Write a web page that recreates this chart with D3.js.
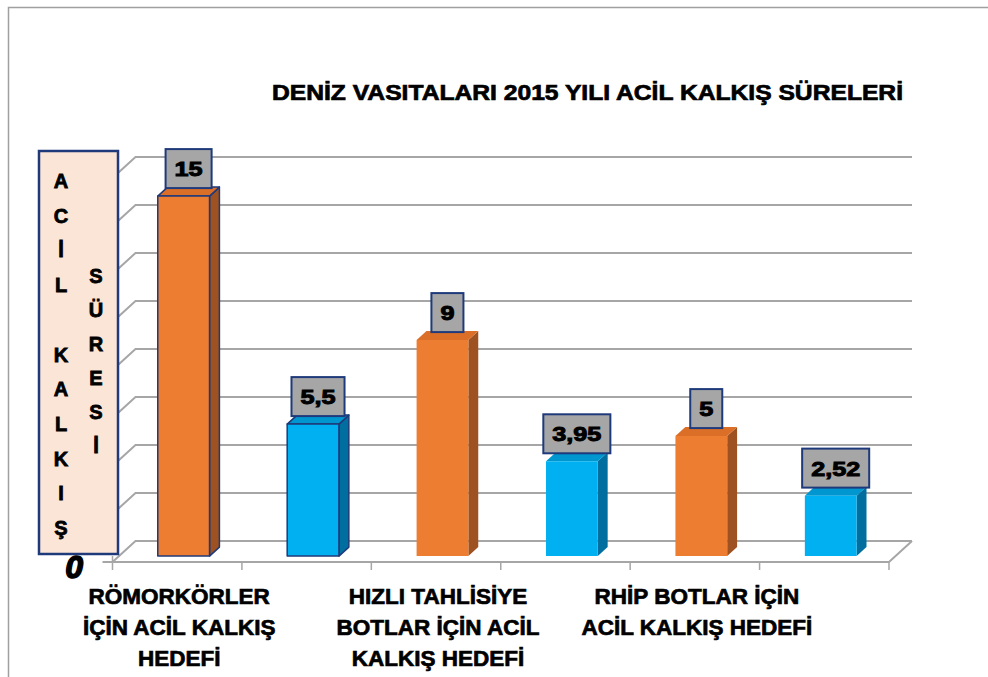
<!DOCTYPE html>
<html>
<head>
<meta charset="utf-8">
<script src="https://cdn.jsdelivr.net/npm/d3@7.8.5/dist/d3.min.js"></script>
<style>
  html, body { margin: 0; padding: 0; background: #fff; }
  svg { display: block; font-family: "Liberation Sans", Arial, sans-serif; }
</style>
</head>
<body>
<svg id="chart" width="988" height="677"></svg>
<script>
// Veriler
const title = "DENİZ VASITALARI 2015 YILI ACİL KALKIŞ SÜRELERİ";
const values = [15, 5.5, 9, 3.95, 5, 2.52];
const tickLabels = [
    ["RÖMORKÖRLER", "İÇİN ACİL KALKIŞ", "HEDEFİ"],
    [],
    ["HIZLI TAHLİSİYE", "BOTLAR İÇİN ACİL", "KALKIŞ HEDEFİ"],
    [],
    ["RHİP BOTLAR İÇİN", "ACİL KALKIŞ HEDEFİ"],
    []
];
const yTitleLeft = "ACİL KALKIŞ";
const yTitleRight = "SÜRESİ";
const yMax = 16;

(function() {
    'use strict';

    const svg = d3.select('#chart');

    // 3B yerleşim: ön zemin kenarı ve derinlik vektörü
    const floorY = 562;
    const depth = { dx: 23, dy: -21 };
    const barDepth = [0.28, 0.71]; // sütunun ön/arka derinlik payı
    const barFrac = 0.40;

    const x = d3.scaleBand().domain(d3.range(values.length)).range([112.5, 889]);
    const h = d3.scaleLinear().domain([0, yMax]).range([0, 384]);

    // nokta: (ekran x, değer, derinlik) -> [px, py]
    const pt = (px, v, d) => [px + depth.dx * d, floorY - h(v) + depth.dy * d];
    const P = (px, v, d) => pt(px, v, d).join(',');

    // Çerçeve
    svg.append('path')
        .attr('d', 'M8.5,677 V7.5 H988')
        .attr('fill', 'none')
        .attr('stroke', '#a0a0a0')
        .attr('stroke-width', 1.5);

    // Başlık
    svg.append('text')
        .attr('x', 272)
        .attr('y', 100)
        .attr('font-size', 22)
        .attr('font-weight', 'bold')
        .attr('textLength', 631)
        .attr('lengthAdjust', 'spacingAndGlyphs')
        .attr('stroke', '#000')
        .attr('stroke-width', 0.7)
        .text(title);

    const x0 = x.range()[0], x1 = x.range()[1];
    const grid = svg.append('g')
        .attr('fill', 'none')
        .attr('stroke', '#a6a6a6')
        .attr('stroke-width', 2);

    // Arka duvar ve yan duvar çizgileri
    h.ticks(8).forEach(t => {
        grid.append('polyline')
            .attr('points', [P(x0, t, 0), P(x0, t, 1), P(x1, t, 1)].join(' '));
    });

    // Zemin ön kenarı ve sağ kenar
    grid.append('polyline')
        .attr('points', [[x0 - 10, floorY].join(','), P(x1, 0, 0), P(x1, 0, 1)].join(' '));

    // Kategori çentikleri
    x.domain().concat([values.length]).forEach(i => {
        const px = i < values.length ? x(i) : x1;
        grid.append('line')
            .attr('x1', px).attr('x2', px)
            .attr('y1', i === 0 ? floorY - 6 : floorY)
            .attr('y2', floorY + 8)
            .attr('stroke-width', 1.5);
    });

    // Renkler (turuncu: hedef, mavi: gerçekleşen)
    const colors = [
        { front: '#ed7d31', top: '#dc6f27', side: '#9e5121' },
        { front: '#00b0f0', top: '#0096cf', side: '#006f9f' }
    ];

    const bw = x.bandwidth() * barFrac;
    const bars = svg.append('g');
    const fmt = v => String(v).replace('.', ',');

    values.forEach((v, i) => {
        const c = colors[i % 2];
        const left = x(i) + (x.bandwidth() - bw) / 2;
        const right = left + bw;
        const [d0, d1] = barDepth;
        const g = bars.append('g')
            .attr('stroke', i < 2 ? '#1f3a7a' : 'none')
            .attr('stroke-width', 1.5)
            .attr('stroke-linejoin', 'round');

        // yan yüz
        g.append('polygon')
            .attr('fill', c.side)
            .attr('points', [P(right, 0, d0), P(right, 0, d1), P(right, v, d1), P(right, v, d0)].join(' '));
        // üst yüz
        g.append('polygon')
            .attr('fill', c.top)
            .attr('points', [P(left, v, d0), P(left, v, d1), P(right, v, d1), P(right, v, d0)].join(' '));
        // ön yüz
        g.append('polygon')
            .attr('fill', c.front)
            .attr('points', [P(left, 0, d0), P(left, v, d0), P(right, v, d0), P(right, 0, d0)].join(' '));

        // Değer etiketi
        const [cx] = pt((left + right) / 2, v, (d0 + d1) / 2);
        const boxBottom = pt(left, v, d1)[1] + 1;
        const lab = svg.append('g');
        const txt = lab.append('text')
            .attr('x', cx)
            .attr('y', boxBottom - 12)
            .attr('text-anchor', 'middle')
            .attr('font-size', 21)
            .attr('font-weight', 'bold')
            .attr('stroke', '#000')
            .attr('stroke-width', 1)
            .text(fmt(v));
        const tw = txt.node().getComputedTextLength() * 1.2;
        txt.attr('textLength', tw).attr('lengthAdjust', 'spacingAndGlyphs');
        lab.insert('rect', 'text')
            .attr('x', cx - tw / 2 - 9)
            .attr('y', boxBottom - 39)
            .attr('width', tw + 18)
            .attr('height', 39)
            .attr('fill', '#a6a6a6')
            .attr('stroke', '#1f3a7a')
            .attr('stroke-width', 2);
    });

    // Dikey eksen başlığı kutusu
    svg.append('rect')
        .attr('x', 39).attr('y', 151)
        .attr('width', 79).attr('height', 403)
        .attr('fill', '#fbe5d6')
        .attr('stroke', '#1f3a7a')
        .attr('stroke-width', 2.5);

    const letters = svg.append('g')
        .attr('font-size', 20)
        .attr('font-weight', 'bold')
        .attr('text-anchor', 'middle')
        .attr('stroke', '#000')
        .attr('stroke-width', 0.8);

    Array.from(yTitleLeft).forEach((ch, k) => {
        letters.append('text')
            .attr('x', 61)
            .attr('y', 188 + k * 34.7)
            .text(ch);
    });
    Array.from(yTitleRight).forEach((ch, k) => {
        letters.append('text')
            .attr('x', 96)
            .attr('y', 283 + k * 34)
            .text(ch);
    });

    // Sıfır etiketi
    svg.append('text')
        .attr('x', 83)
        .attr('y', 578)
        .attr('text-anchor', 'end')
        .attr('font-size', 32)
        .attr('font-weight', 'bold')
        .attr('font-style', 'italic')
        .attr('stroke', '#000')
        .attr('stroke-width', 1.5)
        .text(h.ticks(8)[0]);

    // Kategori etiketleri
    const xl = svg.append('g')
        .attr('font-size', 22.5)
        .attr('font-weight', 'bold')
        .attr('text-anchor', 'middle')
        .attr('stroke', '#000')
        .attr('stroke-width', 0.7);

    tickLabels.forEach((lines, i) => {
        lines.forEach((line, k) => {
            xl.append('text')
                .attr('x', x(i) + x.bandwidth() / 2 + 2)
                .attr('y', 604 + k * 31)
                .text(line);
        });
    });
})();
</script>
</body>
</html>
